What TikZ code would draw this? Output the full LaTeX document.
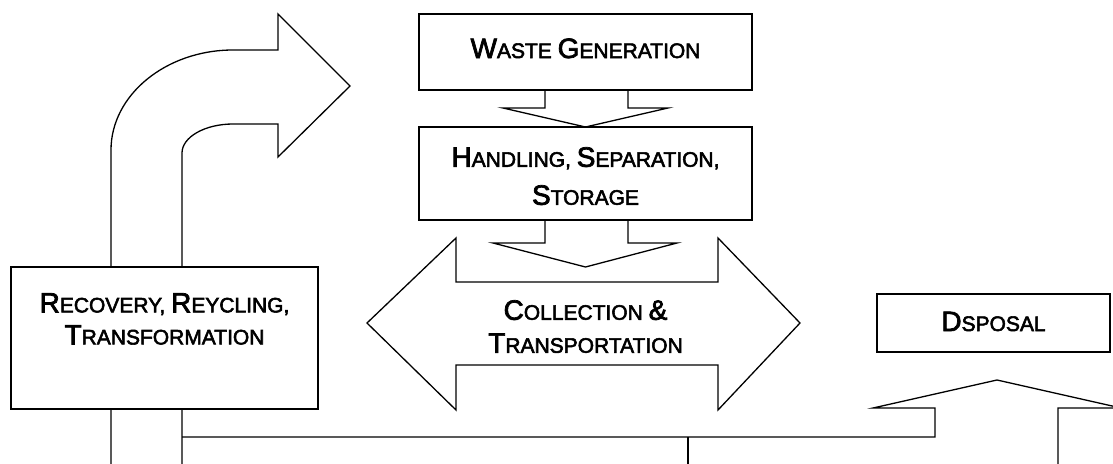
\documentclass[tikz,border=0pt]{standalone}
\usepackage{fontspec}
\setmainfont{Liberation Sans}[FakeBold=2.6]
\newcommand\B[1]{{\fontsize{28}{28}\selectfont #1}}
\tikzset{
  outl/.style={draw=black, line width=1.3pt, line join=miter},
  box/.style={draw=black, line width=1.3pt, fill=white, rectangle, inner sep=0pt},
  lbl/.style={inner sep=0pt, align=center, text=black},
}
\begin{document}
\begin{tikzpicture}[x=1pt,y=-1pt]
\useasboundingbox (0,0) rectangle (1113,463);
\clip (0,0) rectangle (1113,463);
\fill[white] (0,0) rectangle (1113,463);

% curved arrow
\draw[outl] (111,470) -- (111,150) .. controls (111,95) and (166,50) .. (233,50)
  -- (278,50) -- (278,14) -- (350,86) -- (278,157) -- (278,124) -- (233,124)
  .. controls (205,124) and (182,137) .. (182,153) -- (182,470);

% recovery box
\node[box, minimum width=307pt, minimum height=142pt] (recbox) at (164.5,338) {};
\node[lbl, anchor=north, font=\fontsize{21}{32}\selectfont] (rec) at (164.5,293)
  {\B{R}ECOVERY, \B{R}EYCLING,\\\B{T}RANSFORMATION};

% waste generation
\node[box, minimum width=333pt, minimum height=76pt] (wastebox) at (585.5,52) {};
\node[lbl, anchor=base, font=\fontsize{21}{28}\selectfont] (waste) at (585.5,58)
  {\B{W}ASTE \B{G}ENERATION};

% handling box
\node[box, minimum width=333pt, minimum height=93pt] (handbox) at (585.5,173.5) {};
\node[lbl, anchor=north, font=\fontsize{21}{38}\selectfont] (hand) at (585.5,147)
  {\B{H}ANDLING, \B{S}EPARATION,\\\B{S}TORAGE};

% down arrow 1 (waste -> handling)
\draw[outl] (545,90) -- (545,108) -- (503,108) -- (585.5,127) -- (668,108) -- (628,108) -- (628,90);

% down arrow 2 (handling -> collection)
\draw[outl] (545,220) -- (545,243) -- (493,243) -- (585.5,267) -- (677,243) -- (628,243) -- (628,220);

% double arrow
\draw[outl] (456,282) -- (456,238) -- (367,323) -- (456,410) -- (456,365) -- (718,365)
  -- (718,410) -- (800,323) -- (718,238) -- (718,282) -- cycle;
\node[lbl, anchor=north, font=\fontsize{21}{33}\selectfont] (coll) at (585.5,300)
  {\B{C}OLLECTION \B{\&}\\\B{T}RANSPORTATION};

% disposal
\node[box, minimum width=233pt, minimum height=58pt] (dispbox) at (993.5,323) {};
\node[lbl, anchor=base, font=\fontsize{21}{28}\selectfont] (disp) at (993.5,331)
  {\B{D}SPOSAL};

% bottom line and up arrow
\draw[outl] (182,437) -- (935,437) -- (935,408) -- (873,408) -- (997,380) -- (1121,408)
  -- (1058,408) -- (1058,470);
\draw[outl] (688,437) -- (688,470);
\end{tikzpicture}
\end{document}
